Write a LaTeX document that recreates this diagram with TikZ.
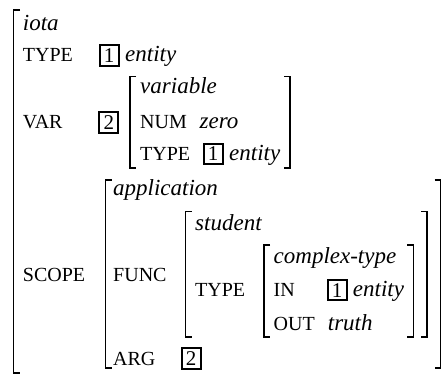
\documentclass[tikz,border=0pt]{standalone}
\usepackage{fontspec}
\setmainfont{Liberation Serif}

% a pair of square brackets: left x, right x, top y, bottom y
\newcommand\avmpair[4]{%
  \draw[brk] (#1+6,#3) -- (#1,#3) -- (#1,#4) -- (#1+6,#4);
  \draw[brk] (#2-6,#3) -- (#2,#3) -- (#2,#4) -- (#2-6,#4);}

\begin{document}
\begin{tikzpicture}[x=1pt,y=-1pt,
  brk/.style={line width=1.5pt},
  feat/.style={anchor=base west, inner sep=0pt, font=\fontsize{20}{20}\selectfont},
  val/.style={anchor=base west, inner sep=0pt, font=\fontsize{23}{23}\selectfont\itshape},
  tag/.style={draw, line width=2pt, inner sep=0pt, minimum width=19pt, minimum height=20.5pt,
              font=\fontsize{21}{21}\selectfont}]
\useasboundingbox (0,0) rectangle (444,374);

% outermost matrix: only its left bracket lies inside the frame
\draw[brk] (20,10) -- (13.5,10) -- (13.5,373) -- (20,373);

% top level
\node[val]  (iota)   at (22.7,31)   {iota};
\node[feat] (ftype)  at (22.7,61.5) {TYPE};
\node[tag]  (tagA)   at (109.2,55.5) {1};
\node[val]  (entA)   at (125,61.5)  {entity};
\node[feat] (fvar)   at (22.7,128.3) {VAR};
\node[tag]  (tagB)   at (108.8,122.5) {2};
\node[feat] (fscope) at (22.7,281)  {SCOPE};

% value of VAR
\avmpair{130}{290}{76.5}{168}
\node[val]  (var)    at (140,94)    {variable};
\node[feat] (fnum)   at (140,128.3) {NUM};
\node[val]  (zero)   at (199.5,128.3) {zero};
\node[feat] (ftypeB) at (140,160.5) {TYPE};
\node[tag]  (tagC)   at (213.2,154) {1};
\node[val]  (entB)   at (229,160.5) {entity};

% value of SCOPE
\avmpair{105.5}{440.5}{180}{368}
\node[val]  (app)    at (113,195)   {application};
\node[feat] (ffunc)  at (113,281)   {FUNC};
\node[feat] (farg)   at (113,365)   {ARG};
\node[tag]  (tagD)   at (191,358.5) {2};

% value of FUNC
\avmpair{185.5}{427}{211.7}{337}
\node[val]  (stud)   at (195,230)   {student};
\node[feat] (ftypeC) at (195,296.7) {TYPE};

% value of the inner TYPE
\avmpair{264}{413.3}{245}{337}
\node[val]  (ctype)  at (273.5,263.3) {complex-type};
\node[feat] (fin)    at (273.5,296.7) {IN};
\node[tag]  (tagE)   at (337.2,290.2) {1};
\node[val]  (entC)   at (352.7,296.7) {entity};
\node[feat] (fout)   at (273.5,330) {OUT};
\node[val]  (truth)  at (327.7,330) {truth};
\end{tikzpicture}
\end{document}
